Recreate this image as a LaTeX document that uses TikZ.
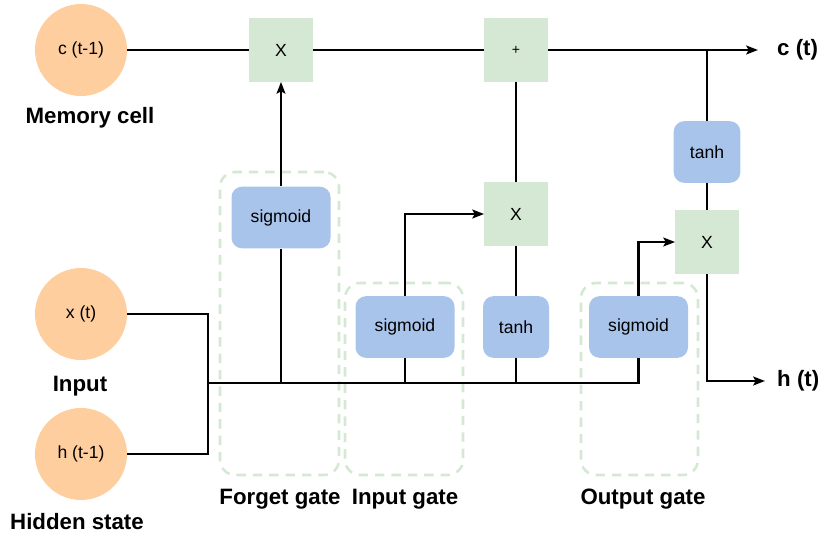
\documentclass[tikz,border=0pt]{standalone}
\usepackage{fontspec}
\setmainfont{Liberation Sans}
\usepackage{xcolor}
\usetikzlibrary{arrows.meta,positioning,calc}

\definecolor{cellorange}{HTML}{FFCE9F}
\definecolor{opgreen}{HTML}{D5E8D4}
\definecolor{actblue}{HTML}{A9C4EB}

\begin{document}
\begin{tikzpicture}[
    x=0.03cm, y=-0.03cm,
    state/.style={circle, fill=cellorange, minimum size=2.76cm, inner sep=0pt, font=\fontsize{15}{17}\selectfont},
    op/.style={rectangle, fill=opgreen, minimum width=1.9cm, minimum height=1.9cm, inner sep=0pt, font=\fontsize{15}{17}\selectfont},
    act/.style={rectangle, fill=actblue, rounded corners=9pt, minimum width=2.97cm, minimum height=1.85cm, inner sep=0pt, font=\fontsize{15}{17}\selectfont},
    gatebox/.style={rectangle, draw=opgreen, line width=2.2pt, dash pattern=on 8pt off 6pt, rounded corners=13pt, inner sep=0pt},
    title/.style={inner sep=0pt, font=\fontsize{19}{22}\selectfont\bfseries},
    line/.style={line width=2pt},
    arrow/.style={line width=2pt, -{Stealth[length=10pt, width=7.5pt, inset=2pt]}}
]
\useasboundingbox (0,0) rectangle (818,536);

% Gate frames
\node[gatebox, minimum width=3.57cm, minimum height=9.09cm] (forgetgate) at (279.5,323.5) {};
\node[gatebox, minimum width=3.54cm, minimum height=5.76cm] (inputgate) at (404,379) {};
\node[gatebox, minimum width=3.51cm, minimum height=5.76cm] (outputgate) at (639.5,379) {};

% States
\node[state] (cprev) at (81,50) {c (t-1)};
\node[state] (xin) at (81,314) {x (t)};
\node[state] (hprev) at (81,454) {h (t-1)};
\node[title] (memlabel) at (90,118) {Memory cell};
\node[title] (inlabel) at (80,386) {Input};
\node[title] (hidlabel) at (77,522) {Hidden state};

% Operations
\node[op] (mulf) at (281,50) {X};
\node[op, font=\fontsize{12}{14}\selectfont] (add) at (516,50) {+};
\node[op] (muli) at (516,214) {X};
\node[op] (mulo) at (707,242) {X};

% Activations
\node[act] (sigf) at (281,217.5) {sigmoid};
\node[act] (sigi) at (405,327) {sigmoid};
\node[act, minimum width=1.98cm] (tanhi) at (516,327) {tanh};
\node[act] (sigo) at (638.5,327) {sigmoid};
\node[act, minimum width=2cm] (tanho) at (707,152) {tanh};

% Gate labels
\node[title] (flabel) at (280,499) {Forget gate};
\node[title] (ilabel) at (405,499) {Input gate};
\node[title] (olabel) at (643,499) {Output gate};

% Outputs
\coordinate (cend) at (758,50);
\coordinate (hend) at (765,381);
\coordinate (joint) at (208,383);
\node[title, anchor=west] (ct) at (777,50) {c (t)};
\node[title, anchor=west] (ht) at (777,381) {h (t)};

% Cell state line
\draw[line] (cprev) -- (mulf);
\draw[line] (mulf) -- (add);
\draw[arrow] (add) -- (cend);

% Input bus
\draw[line] (xin.east) -| (joint) |- (hprev.east);
\draw[line] (joint) -| (sigo.south);
\draw[line] (sigf.south) -- (sigf.south |- joint);
\draw[line] (sigi.south) -- (sigi.south |- joint);
\draw[line] (tanhi.south) -- (tanhi.south |- joint);

% Gates
\draw[arrow] (sigf) -- (mulf);
\draw[arrow] (sigi.north) |- (muli.west);
\draw[line] (tanhi) -- (muli);
\draw[line] (muli) -- (add);
\draw[arrow] (sigo.north) |- (mulo.west);
\draw[line] (mulo) -- (tanho);
\draw[line] (tanho.north) -- (tanho.north |- cend);
\draw[arrow] (mulo.south) |- (hend);

\end{tikzpicture}
\end{document}
